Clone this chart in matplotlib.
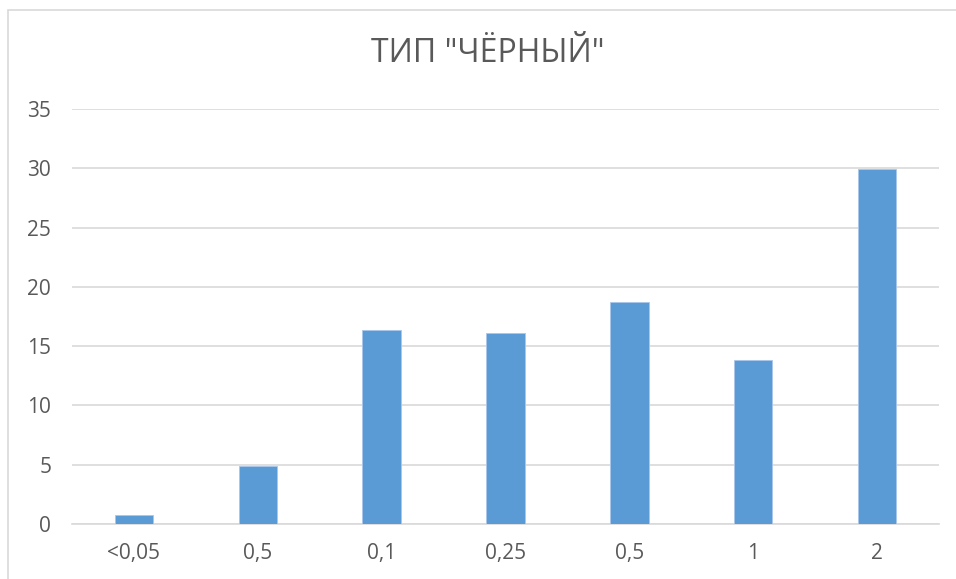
import matplotlib.pyplot as plt
from matplotlib.patches import Rectangle

plt.rcParams['font.family'] = ['Open Sans', 'DejaVu Sans']

# данные
categories = ['<0,05', '0,5', '0,1', '0,25', '0,5', '1', '2']
values = [0.8, 4.9, 16.4, 16.1, 18.7, 13.8, 29.9]
yticks = [0, 5, 10, 15, 20, 25, 30, 35]

W, H = 956, 579
fig = plt.figure(figsize=(W / 100, H / 100), dpi=100)

# рамка диаграммы (правый и нижний край за пределами кадра)
fig.patches.append(Rectangle((8 / W, -0.1), 1.2, (H - 10) / H + 0.1,
                             transform=fig.transFigure, fill=False,
                             edgecolor='#d9d9d9', linewidth=1.2))

ax = fig.add_axes([72 / W, (H - 524) / H, (939 - 72) / W, (524 - 109) / H])

x = range(len(categories))
ax.bar(x, values, width=0.31, color='#5b9bd5', edgecolor='#a9c8ea',
       linewidth=0.6, zorder=3)

ax.set_xlim(-0.5, len(categories) - 0.5)
ax.set_ylim(0, 35)
ax.set_yticks(yticks)
ax.set_xticks(list(x))
ax.set_xticklabels(categories)
ax.yaxis.grid(True, color='#d9d9d9', linewidth=1.2, zorder=0)
ax.set_axisbelow(True)

for s in ['top', 'right', 'left']:
    ax.spines[s].set_visible(False)
ax.spines['bottom'].set_color('#d9d9d9')
ax.spines['bottom'].set_linewidth(1.2)

ax.tick_params(axis='both', length=0, labelsize=15, labelcolor='#595959')
ax.tick_params(axis='y', pad=15)
ax.tick_params(axis='x', pad=14)

fig.text(488 / W, 1 - 53 / H, 'ТИП "ЧЁРНЫЙ"', ha='center', va='center',
         fontsize=23, color='#595959')

fig.savefig('out.png', dpi=100, facecolor='white')
